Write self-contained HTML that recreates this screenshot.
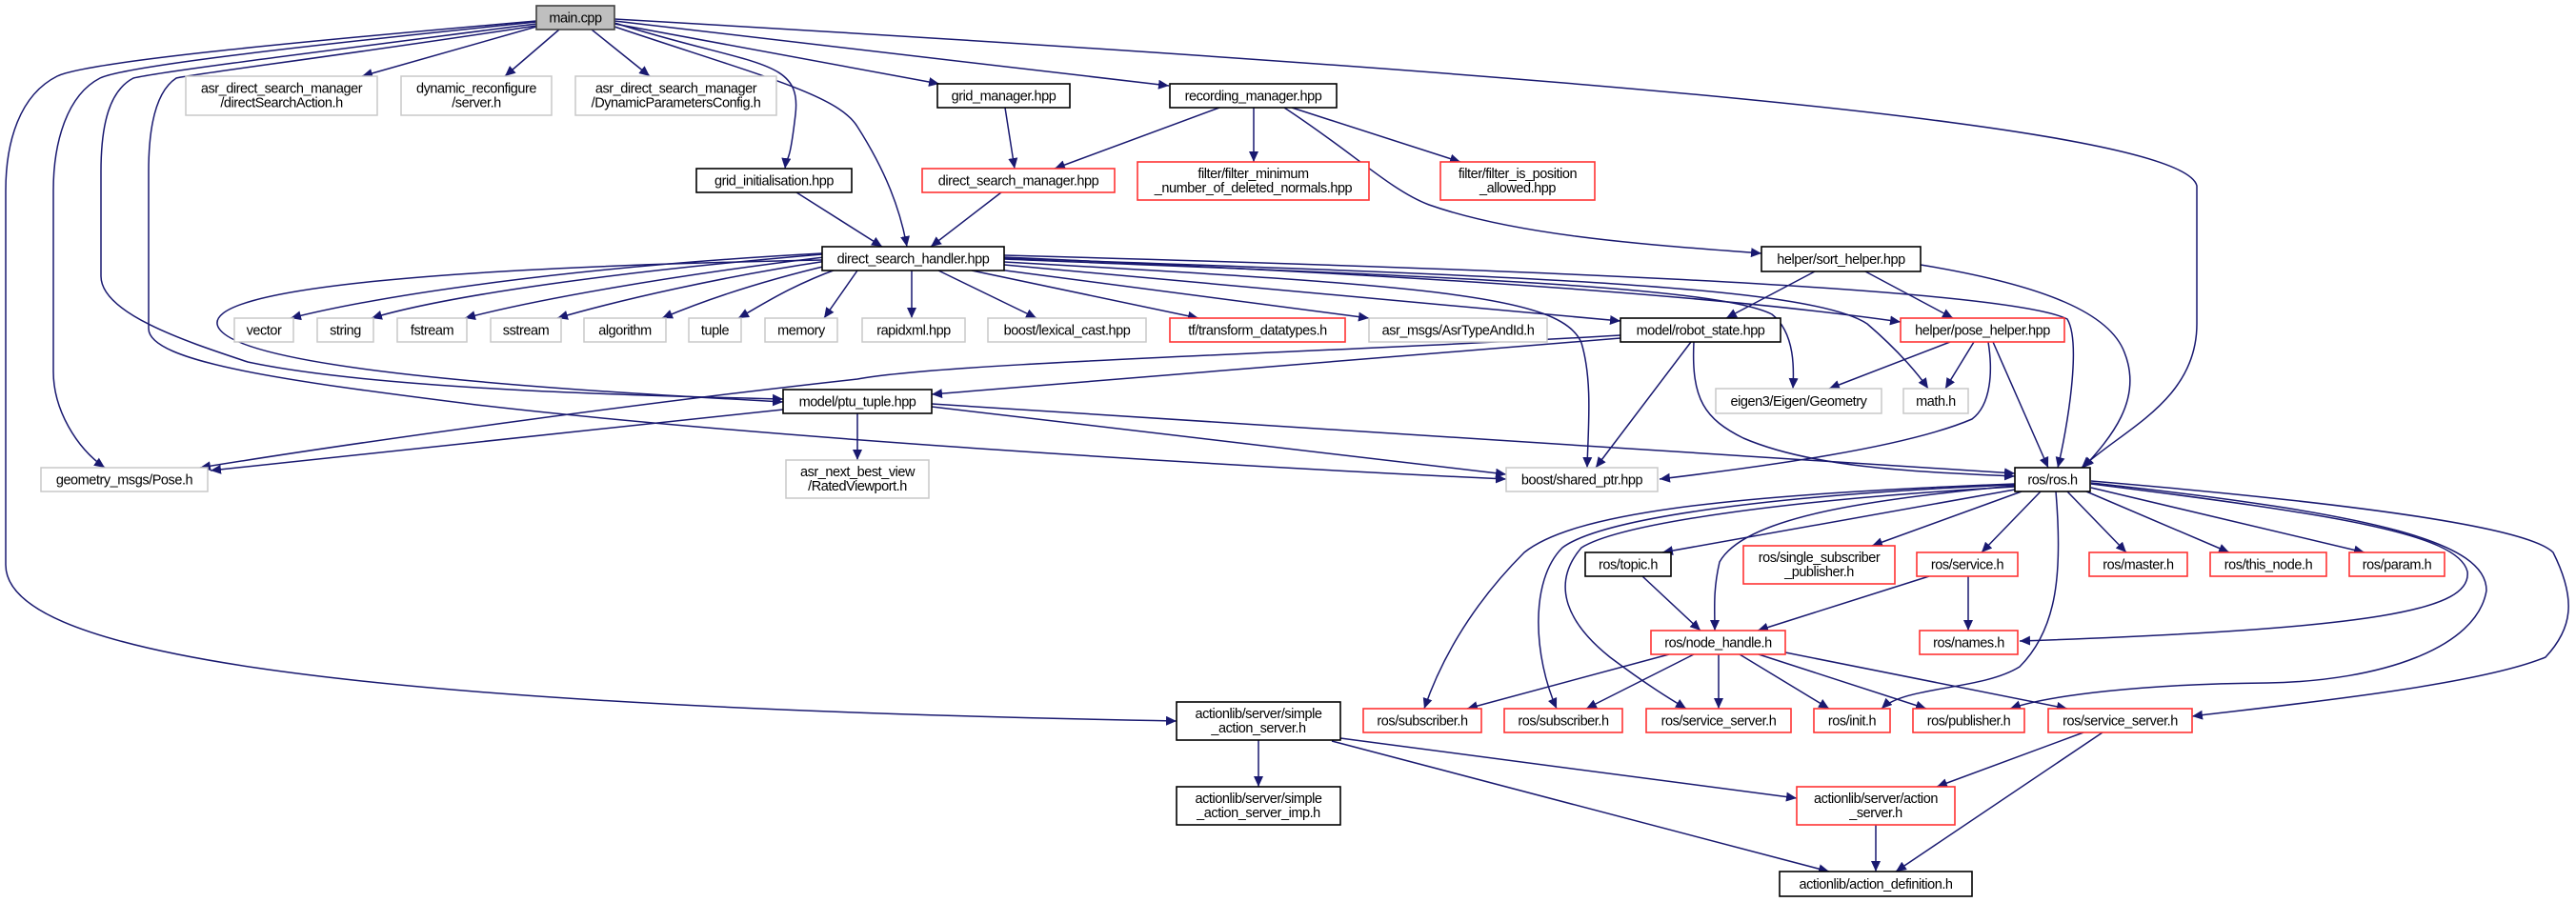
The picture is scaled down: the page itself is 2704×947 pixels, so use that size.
<!DOCTYPE html>
<html><head><meta charset="utf-8"><style>
html,body{margin:0;padding:0;background:#fff;}
svg{display:block;}
text{font-family:"Liberation Sans",sans-serif;font-size:14.5px;letter-spacing:-0.45px;fill:#000;}
</style></head><body>
<svg id="g" xmlns="http://www.w3.org/2000/svg" width="2704" height="947" viewBox="0 0 2704 947">
<defs><marker id="a" markerUnits="userSpaceOnUse" markerWidth="12" markerHeight="10" refX="11" refY="5" orient="auto"><path d="M0,0 L11,5 L0,10 z" fill="#191970"/></marker></defs>
<g id="E" fill="none" stroke="#191970" stroke-width="1.5" marker-end="url(#a)"></g>
<g id="N"></g>
</svg>
<script>
var E=[
"M563,28 L380,80","M587,31 L530,80","M621,31 L682,80",
"M645,24 C790,70 842,60 835,120 S826,160 824,177",
"M645,28 C800,80 880,100 900,133 C930,180 945,220 952,259",
"M645,25 L986,88","M645,22 L1227,90",
"M645,20 C1600,75 2290,130 2306,195 L2306,340 C2306,420 2230,450 2185,491",
"M563,22 C300,45 90,65 60,80 C20,100 6,150 6,200 L6,593 C6,680 300,740 1235,757",
"M563,23 C300,50 130,70 105,82 C70,100 56,150 56,200 L56,390 C56,430 80,470 110,491",
"M563,25 C330,55 170,75 140,82 C115,95 106,130 106,180 L106,290 C106,330 200,360 260,380 C400,410 700,416 822,419",
"M563,27 C360,58 200,78 185,82 C165,95 156,130 156,180 L156,345 C156,380 300,400 500,425 C800,460 1300,490 1581,503",
"M1055,113 L1065,177","M1051,202 L977,259","M836,202 L926,259",
"M1280,113 L1107,177","M1316,113 L1316,170","M1356,113 L1533,170",
"M1348,113 C1420,160 1460,200 1500,215 C1600,250 1750,258 1849,266",
"M863,266 C600,280 400,310 305,334","M863,267 C650,285 470,310 390,334","M865,270 C700,290 560,315 488,334",
"M868,274 C760,290 650,315 585,334","M872,278 C800,295 740,315 695,334","M880,282 C830,300 800,320 775,334",
"M900,284 L865,334","M957,284 L957,334","M985,284 L1088,334","M1020,284 L1258,334","M1040,282 L1437,334","M1054,278 L1701,337",
"M863,273 C500,280 200,300 230,345 C260,390 600,410 822,422",
"M1054,275 C1500,300 1640,310 1660,360 C1672,400 1667,450 1666,491",
"M1054,272 C1500,290 1800,300 1860,330 C1885,350 1883,390 1882,408",
"M1054,271 C1600,290 1900,300 1960,340 C1995,370 2015,395 2024,408",
"M1054,270 C1500,290 1800,310 1995,338",
"M1054,268 C1500,280 2100,300 2170,335 C2185,360 2170,450 2160,491",
"M1905,285 L1812,334","M1958,285 L2050,334",
"M2016,278 C2150,300 2215,330 2230,370 C2250,420 2215,460 2187,491",
"M1701,355 L978,414","M1701,352 C1400,370 1000,380 900,398 C700,420 400,460 210,491",
"M1775,359 L1675,491","M1778,359 C1775,420 1790,440 1830,460 C1900,490 2000,495 2115,500",
"M822,430 L221,494","M900,434 L900,483","M978,427 L1581,498","M978,424 L2115,497",
"M2047,359 L1920,408","M2072,359 L2042,408","M2092,359 L2150,491",
"M2087,359 C2092,390 2090,425 2070,440 C2000,470 1850,490 1742,503",
"M2115,514 L1745,580","M2122,516 L1965,573","M2142,516 L2080,580","M2170,516 L2232,580","M2190,516 L2340,580","M2195,512 L2482,580",
"M2195,508 C2450,540 2580,560 2590,600 C2595,640 2500,660 2120,673",
"M2195,507 C2500,540 2610,570 2610,620 C2600,680 2500,715 2380,717 C2250,718 2150,730 2110,744",
"M2195,505 C2550,535 2660,560 2680,580 C2705,630 2700,660 2672,690 C2600,720 2400,740 2301,752",
"M2158,516 C2165,600 2160,660 2120,700 C2080,725 2000,720 1975,744",
"M2115,510 C1950,525 1830,545 1805,590 C1798,620 1800,640 1800,662",
"M2115,508 C1800,520 1650,540 1600,580 C1540,640 1510,700 1495,744",
"M2115,509 C1850,520 1680,545 1640,575 C1605,610 1610,690 1634,744",
"M2115,511 C1870,525 1700,550 1660,575 C1630,610 1640,650 1690,690 C1730,720 1755,735 1770,744",
"M1724,605 L1785,662","M2025,605 L1845,662","M2066,605 L2066,662",
"M1752,687 L1540,744","M1778,687 L1665,744","M1804,687 L1804,744","M1826,687 L1920,744","M1846,687 L2022,744","M1874,685 L2170,744",
"M1321,777 L1321,826","M1407,775 L1886,838","M1398,778 L1920,915","M1969,866 L1969,915",
"M2187,769 L2033,826","M2207,769 L1990,915"
];
var N=[
["m",563,6,645,31,["main.cpp"]],
["g",195,80,396,121,["asr_direct_search_manager","/directSearchAction.h"]],
["g",421,80,579,121,["dynamic_reconfigure","/server.h"]],
["g",604,80,815,121,["asr_direct_search_manager","/DynamicParametersConfig.h"]],
["k",984,88,1123,113,["grid_manager.hpp"]],
["k",1228,88,1403,113,["recording_manager.hpp"]],
["k",731,177,894,202,["grid_initialisation.hpp"]],
["r",968,177,1170,202,["direct_search_manager.hpp"]],
["r",1194,170,1437,210,["filter/filter_minimum","_number_of_deleted_normals.hpp"]],
["r",1512,170,1674,210,["filter/filter_is_position","_allowed.hpp"]],
["k",863,259,1054,284,["direct_search_handler.hpp"]],
["k",1849,259,2016,285,["helper/sort_helper.hpp"]],
["g",246,334,308,359,["vector"]],["g",333,334,392,359,["string"]],["g",417,334,490,359,["fstream"]],
["g",515,334,589,359,["sstream"]],["g",613,334,699,359,["algorithm"]],["g",723,334,778,359,["tuple"]],
["g",803,334,879,359,["memory"]],["g",905,334,1013,359,["rapidxml.hpp"]],["g",1037,334,1203,359,["boost/lexical_cast.hpp"]],
["r",1228,334,1412,359,["tf/transform_datatypes.h"]],["g",1437,334,1624,359,["asr_msgs/AsrTypeAndId.h"]],
["k",1701,334,1869,359,["model/robot_state.hpp"]],["r",1995,334,2167,359,["helper/pose_helper.hpp"]],
["k",822,409,978,434,["model/ptu_tuple.hpp"]],["g",1801,408,1975,434,["eigen3/Eigen/Geometry"]],["g",1998,408,2066,434,["math.h"]],
["g",43,491,218,516,["geometry_msgs/Pose.h"]],["g",825,483,975,523,["asr_next_best_view","/RatedViewport.h"]],
["g",1581,491,1740,516,["boost/shared_ptr.hpp"]],["k",2115,491,2194,516,["ros/ros.h"]],
["k",1664,580,1754,605,["ros/topic.h"]],["r",1830,573,1989,613,["ros/single_subscriber","_publisher.h"]],
["r",2012,580,2118,605,["ros/service.h"]],["r",2193,580,2296,605,["ros/master.h"]],["r",2320,580,2442,605,["ros/this_node.h"]],
["r",2466,580,2566,605,["ros/param.h"]],
["r",1733,662,1874,687,["ros/node_handle.h"]],["r",2015,662,2118,687,["ros/names.h"]],
["k",1235,737,1407,777,["actionlib/server/simple","_action_server.h"]],
["r",1431,744,1555,769,["ros/subscriber.h"]],["r",1579,744,1703,769,["ros/subscriber.h"]],["r",1728,744,1880,769,["ros/service_server.h"]],
["r",1904,744,1984,769,["ros/init.h"]],["r",2008,744,2125,769,["ros/publisher.h"]],["r",2150,744,2301,769,["ros/service_server.h"]],
["k",1235,826,1407,866,["actionlib/server/simple","_action_server_imp.h"]],["r",1886,826,2052,866,["actionlib/server/action","_server.h"]],
["k",1868,915,2070,941,["actionlib/action_definition.h"]]
];
var ns="http://www.w3.org/2000/svg",Eg=document.getElementById("E"),Ng=document.getElementById("N");
E.forEach(function(d){var p=document.createElementNS(ns,"path");p.setAttribute("d",d);Eg.appendChild(p);});
var col={m:"#404040",g:"#c8c8c8",k:"#000",r:"#ff3333"};
N.forEach(function(n){
 var r=document.createElementNS(ns,"rect");
 r.setAttribute("x",n[1]);r.setAttribute("y",n[2]);r.setAttribute("width",n[3]-n[1]);r.setAttribute("height",n[4]-n[2]);
 r.setAttribute("fill",n[0]=="m"?"#bfbfbf":"#fff");r.setAttribute("stroke",col[n[0]]);r.setAttribute("stroke-width",n[0]=="g"?"1.5":"1.6");
 Ng.appendChild(r);
 var cx=(n[1]+n[3])/2,cy=(n[2]+n[4])/2,L=n[5];
 L.forEach(function(s,i){
  var t=document.createElementNS(ns,"text");
  var y=L.length==1?cy+5:cy-3+i*15;
  t.setAttribute("x",cx);t.setAttribute("y",y);t.setAttribute("text-anchor","middle");
  t.textContent=s;Ng.appendChild(t);
 });
});
</script>
</body></html>
